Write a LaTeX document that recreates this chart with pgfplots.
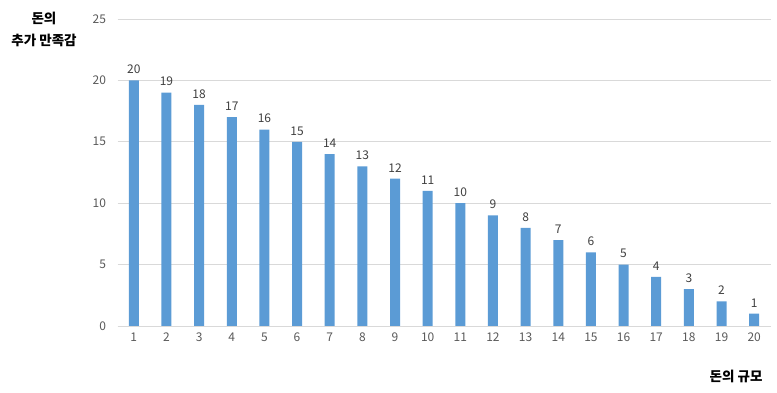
\documentclass[border=0pt]{standalone}
\usepackage{pgfplots}
\pgfplotsset{compat=1.18}
\usepackage{fontspec}
\setmainfont{Noto Sans CJK KR}
\definecolor{barblue}{HTML}{5B9BD5}
\definecolor{tickgray}{HTML}{595959}
\definecolor{gridgray}{HTML}{D9D9D9}
\begin{document}
\begin{tikzpicture}[x=1pt,y=1pt]
\path[use as bounding box] (0,0) rectangle (777,393);
\begin{axis}[
  at={(117.5pt,67pt)}, anchor=south west,
  scale only axis, width=653pt, height=307pt,
  xmin=0.5, xmax=20.5, ymin=0, ymax=25,
  ytick={0,5,...,25},
  xtick={1,...,20},
  ymajorgrids, grid style={gridgray, line width=0.8pt},
  axis x line*=bottom, axis y line*=left,
  x axis line style={gridgray, line width=0.8pt, -},
  y axis line style={draw=none},
  tick style={draw=none},
  tick label style={font=\fontsize{12}{13}\selectfont, text=tickgray},
  /pgf/number format/assume math mode=true,
  yticklabel style={xshift=-8pt},
  xticklabel style={yshift=-3pt},
  clip=false,
]
\addplot[ybar, bar width=10pt, fill=barblue, draw=none,
  nodes near coords, nodes near coords style={font=\fontsize{12}{13}\selectfont, text=black!75, yshift=3pt}]
coordinates {(1,20)(2,19)(3,18)(4,17)(5,16)(6,15)(7,14)(8,13)(9,12)(10,11)(11,10)(12,9)(13,8)(14,7)(15,6)(16,5)(17,4)(18,3)(19,2)(20,1)};
\end{axis}
\node[font=\bfseries\fontsize{13.5}{22}\selectfont, align=center] at (44,364) {돈의\\추가 만족감};
\node[font=\bfseries\fontsize{13.5}{15}\selectfont, anchor=east] at (766,17) {돈의 규모};
\end{tikzpicture}
\end{document}
